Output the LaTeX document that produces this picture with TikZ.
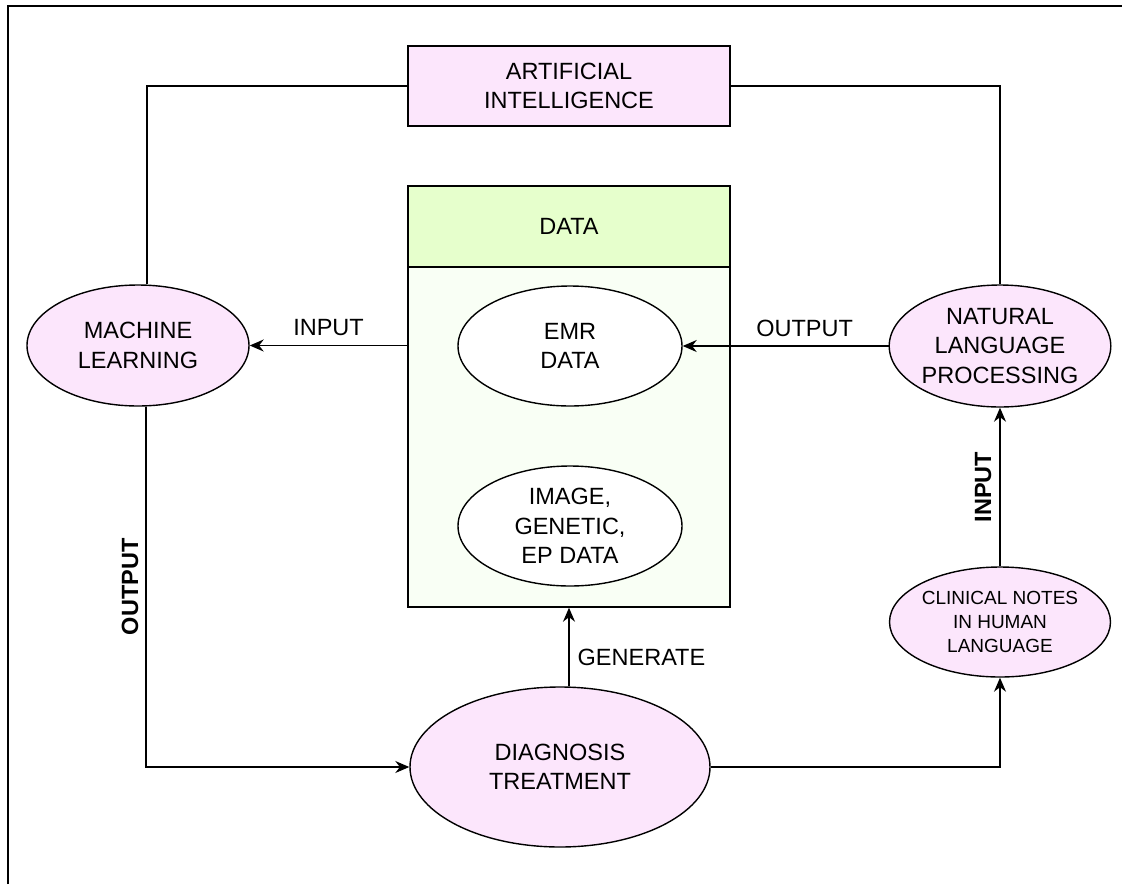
\documentclass[tikz,border=0pt]{standalone}
\usepackage{fontspec}
\setmainfont{Liberation Sans}
\usetikzlibrary{shapes.geometric,arrows.meta}
\definecolor{pinkfill}{HTML}{FCE6FC}
\definecolor{headgreen}{HTML}{E6FFCC}
\definecolor{bodygreen}{HTML}{F9FFF5}
\begin{document}
\begin{tikzpicture}[x=1pt,y=-1pt,>={Stealth[length=14pt,width=12pt]},line width=1.4pt,
    every node/.style={font=\fontsize{23.5}{29.5}\selectfont,align=center,inner sep=0pt},
    oval/.style={ellipse,draw,fill=pinkfill},
    lbl/.style={font=\fontsize{23.5}{29.5}\selectfont\bfseries,rotate=90,anchor=south}]
    \useasboundingbox (0,0) rectangle (1122,884);
    \draw[line width=2pt](8,884)--(8,6)--(1122,6);
    % boxes
    \node[draw,fill=pinkfill,minimum width=322pt,minimum height=80pt](ai) at (569,86){ARTIFICIAL\\INTELLIGENCE};
    \node[draw,fill=bodygreen,minimum width=322pt,minimum height=421pt](data) at (569,396.5){};
    \node[draw,fill=headgreen,minimum width=322pt,minimum height=81pt](head) at (569,226.5){DATA};
    \node[ellipse,draw,fill=white,minimum width=224pt,minimum height=120pt](emr) at (570,346){EMR\\DATA};
    \node[ellipse,draw,fill=white,minimum width=224pt,minimum height=120pt](img) at (570,526){IMAGE,\\GENETIC,\\EP DATA};
    % ovals
    \node[oval,minimum width=222pt,minimum height=121pt](ml) at (138,345.5){MACHINE\\LEARNING};
    \node[oval,minimum width=220pt,minimum height=122pt](nlp) at (1000,346){NATURAL\\LANGUAGE\\PROCESSING};
    \node[oval,minimum width=300pt,minimum height=160pt](diag) at (560,767){DIAGNOSIS\\TREATMENT};
    \node[oval,minimum width=220pt,minimum height=110pt,font=\fontsize{19}{24}\selectfont](notes) at (1000,622){CLINICAL NOTES\\IN HUMAN\\LANGUAGE};
    % links
    \draw([xshift=9pt]ml.north)|-(ai.west);
    \draw(nlp.north)|-(ai.east);
    \draw[->](data.west|-ml)--node[above=9pt]{INPUT}(ml.east);
    \draw[->](nlp.west)--node[above=9pt,xshift=19pt]{OUTPUT}(emr.east);
    \draw[->]([xshift=8pt]ml.south)|-node[pos=0.25,xshift=-7pt,lbl]{OUTPUT}(diag.west);
    \draw[->](data.south|-diag.north)--node[anchor=west,xshift=8pt,yshift=-10pt]{GENERATE}(data.south);
    \draw[->](diag.east)-|(notes.south);
    \draw[->](notes.north)--node[xshift=-8pt,lbl]{INPUT}(nlp.south);
\end{tikzpicture}
\end{document}
